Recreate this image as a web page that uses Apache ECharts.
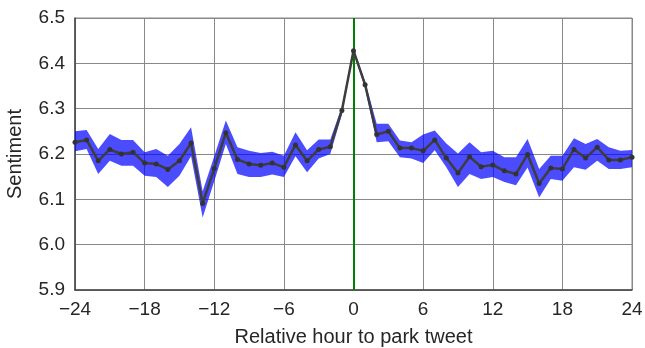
<!DOCTYPE html>
<html>
<head>
<meta charset="utf-8">
<script src="https://cdn.jsdelivr.net/npm/echarts@6/dist/echarts.min.js"></script>
<style>
  html, body { margin: 0; padding: 0; background: #fff; }
  #main { width: 645px; height: 348px; }
</style>
</head>
<body>
<div id="main"></div>
<script>
// heures relatives au tweet
const hours = ['-24','-23','-22','-21','-20','-19','-18','-17','-16','-15','-14','-13','-12','-11','-10','-9','-8','-7','-6','-5','-4','-3','-2','-1',
  '0','1','2','3','4','5','6','7','8','9','10','11','12','13','14','15','16','17','18','19','20','21','22','23','24'];

// sentiment moyen
const meanVals = [6.226, 6.231, 6.185, 6.210, 6.200, 6.204, 6.180, 6.178, 6.166, 6.185, 6.224, 6.091, 6.168, 6.247, 6.188, 6.178, 6.175, 6.180, 6.171, 6.220, 6.185, 6.210, 6.216, 6.296,
  6.428, 6.353, 6.243, 6.250, 6.213, 6.213, 6.207, 6.231, 6.191, 6.158, 6.194, 6.172, 6.176, 6.163, 6.156, 6.199, 6.135, 6.169, 6.167, 6.210, 6.191, 6.215, 6.187, 6.187, 6.193];

// bornes de l'intervalle
const upperVals = [6.250, 6.253, 6.211, 6.244, 6.231, 6.231, 6.204, 6.211, 6.196, 6.222, 6.259, 6.118, 6.195, 6.274, 6.215, 6.207, 6.202, 6.205, 6.196, 6.248, 6.208, 6.232, 6.232, 6.305,
  6.432, 6.360, 6.267, 6.267, 6.230, 6.226, 6.243, 6.252, 6.223, 6.201, 6.226, 6.204, 6.207, 6.193, 6.193, 6.233, 6.167, 6.196, 6.196, 6.235, 6.222, 6.233, 6.215, 6.207, 6.209];
const lowerVals = [6.206, 6.211, 6.156, 6.185, 6.174, 6.174, 6.152, 6.149, 6.127, 6.152, 6.195, 6.060, 6.140, 6.222, 6.156, 6.149, 6.149, 6.155, 6.149, 6.195, 6.160, 6.190, 6.200, 6.287,
  6.424, 6.345, 6.226, 6.228, 6.193, 6.190, 6.180, 6.208, 6.171, 6.127, 6.156, 6.145, 6.149, 6.138, 6.131, 6.170, 6.104, 6.145, 6.141, 6.171, 6.165, 6.185, 6.167, 6.167, 6.171];

const yTicks = [5.9, 6.0, 6.1, 6.2, 6.3, 6.4, 6.5];

const chart = echarts.init(document.getElementById('main'), null, { renderer: 'canvas' });

const font = 'Liberation Sans, Arial, sans-serif';

const option = {
  animation: false,
  backgroundColor: '#fff',
  grid: {
    left: 75, right: 13, top: 18, bottom: 58,
    outerBoundsMode: 'none',
    containLabel: false,
    show: true, borderColor: '#888', borderWidth: 1
  },
  xAxis: {
    type: 'category',
    data: hours,
    boundaryGap: false,
    name: 'Relative hour to park tweet',
    nameLocation: 'middle',
    nameGap: 37,
    nameTextStyle: { fontFamily: font, fontSize: 20, color: '#262626' },
    axisLine: { lineStyle: { color: '#444', width: 1.5 } },
    axisTick: { show: false },
    axisLabel: {
      interval: 5,
      margin: 10,
      fontFamily: font, fontSize: 19, color: '#262626',
      formatter: v => v.replace('-', '\u2212')
    },
    splitLine: { show: true, interval: 5, lineStyle: { color: '#888', width: 1 } }
  },
  yAxis: {
    type: 'value',
    min: yTicks[0],
    max: yTicks[yTicks.length - 1],
    interval: 0.1,
    name: 'Sentiment',
    nameLocation: 'middle',
    nameGap: 50,
    nameTextStyle: { fontFamily: font, fontSize: 20, color: '#262626' },
    axisLine: { show: true, lineStyle: { color: '#444', width: 1.5 } },
    axisTick: { show: false },
    axisLabel: {
      margin: 10,
      fontFamily: font, fontSize: 19, color: '#262626',
      formatter: v => v.toFixed(1)
    },
    splitLine: { show: true, lineStyle: { color: '#888', width: 1 } }
  },
  series: [
    {
      name: 'bas',
      type: 'line',
      stack: 'ci',
      data: lowerVals,
      symbol: 'none',
      lineStyle: { opacity: 0 },
      silent: true
    },
    {
      name: 'intervalle',
      type: 'line',
      stack: 'ci',
      data: upperVals.map((u, i) => +(u - lowerVals[i]).toFixed(4)),
      symbol: 'none',
      lineStyle: { opacity: 0 },
      areaStyle: { color: 'rgba(0,0,255,0.7)', opacity: 1 },
      silent: true
    },
    {
      name: 'Sentiment',
      type: 'line',
      data: meanVals,
      symbol: 'circle',
      symbolSize: 5,
      itemStyle: { color: '#333' },
      lineStyle: { color: '#3d3d3d', width: 2.5 },
      z: 5,
      markLine: {
        silent: true,
        symbol: 'none',
        label: { show: false },
        lineStyle: { color: '#008000', width: 2, type: 'solid' },
        data: [{ xAxis: '0' }]
      }
    }
  ]
};

chart.setOption(option);
</script>
</body>
</html>
